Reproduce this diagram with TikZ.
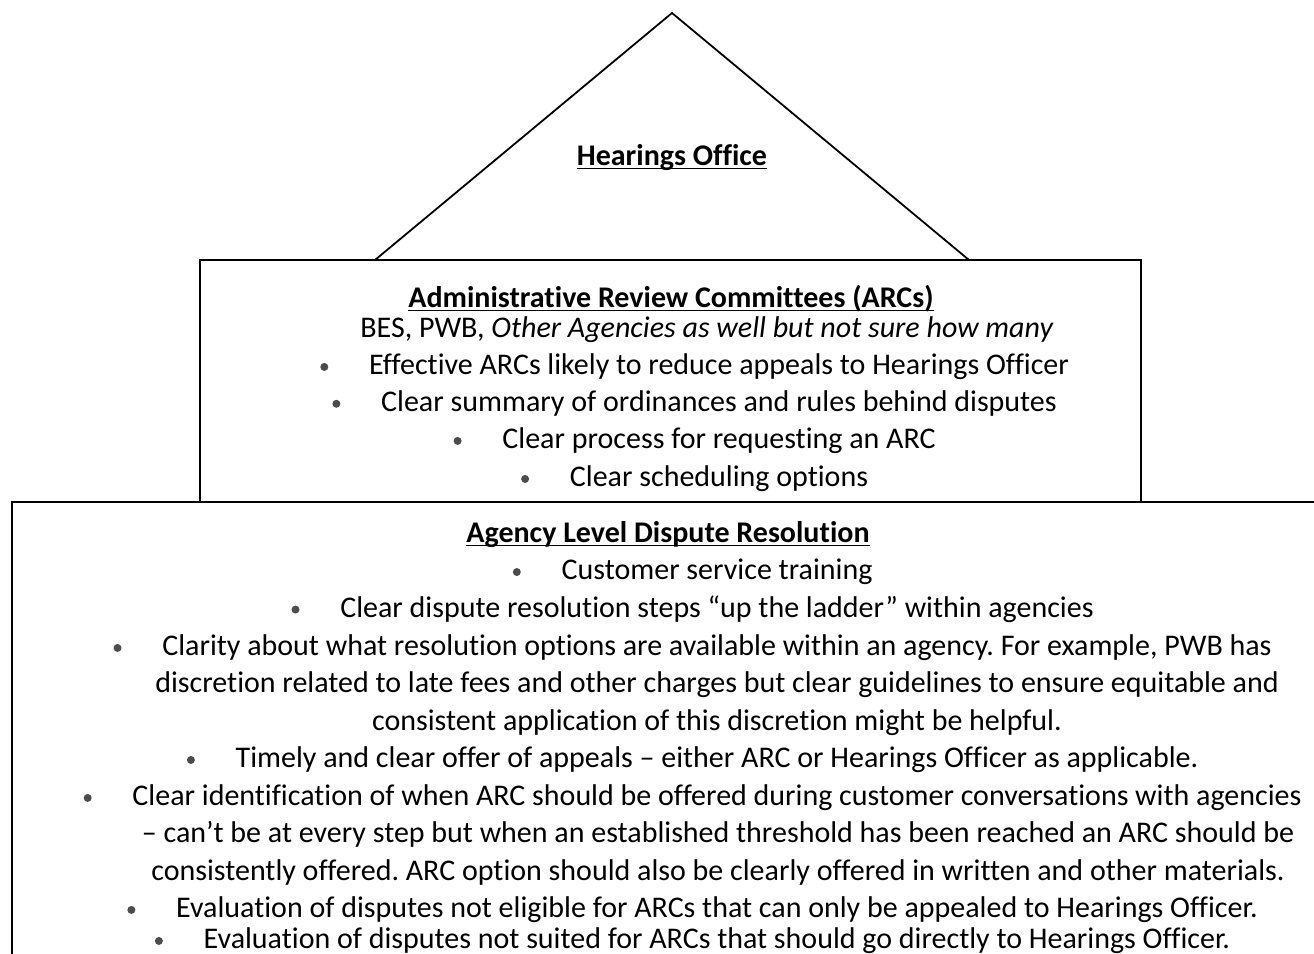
\documentclass[tikz,border=0pt]{standalone}
\usepackage{fontspec}
\setmainfont{Carlito}[Ligatures=NoCommon]
\usetikzlibrary{positioning}
\frenchspacing
\newcommand{\headline}[1]{\underline{\smash{\textbf{#1}}}}

\begin{document}
\begin{tikzpicture}[x=0.5pt, y=-0.5pt, font=\fontsize{15}{17}\selectfont,
  every node/.style={inner sep=0pt},
  frame/.style={line width=0.9pt},
  dot/.style={circle, fill=black!70, inner sep=0pt, minimum size=4pt},
  line/.style={anchor=mid}]
  \useasboundingbox (0,0) rectangle (1314,954);

  % roof: hearings office
  \coordinate (roofL) at (375,260);
  \coordinate (apex)  at (672,13);
  \coordinate (roofR) at (969,260);
  \draw[frame] (roofL) -- (apex) -- (roofR);
  \node[line] (ho) at (672,161) {\headline{Hearings Office}};

  % middle floor: ARCs
  \draw[frame] (200,260) rectangle (1141,502);
  \node[line] (arctitle) at (671,303) {\headline{Administrative Review Committees (ARCs)}};
  \node[line] (arcsub) at (707,333) {BES, PWB, \textit{Other Agencies as well but not sure how many}};
  \foreach \y/\t [count=\i] in {370/{Effective ARCs likely to reduce appeals to Hearings Officer},
      407/{Clear summary of ordinances and rules behind disputes},
      444/{Clear process for requesting an ARC},
      482/{Clear scheduling options}}{
    \node[line] (arc\i) at (719,\y) {\t};
    \node[dot, left=20pt of arc\i.west] (arcdot\i) {};
  }

  % ground floor: agency level
  \draw[frame] (12,954) |- (1314,502);
  \node[line] (agtitle) at (668,538) {\headline{Agency Level Dispute Resolution}};
  \foreach \y/\t [count=\i] in {575/{Customer service training},
      613/{Clear dispute resolution steps “up the ladder” within agencies},
      651/{Clarity about what resolution options are available within an agency. For example, PWB has},
      763/{Timely and clear offer of appeals – either ARC or Hearings Officer as applicable.},
      801/{Clear identification of when ARC should be offered during customer conversations with agencies},
      913/{Evaluation of disputes not eligible for ARCs that can only be appealed to Hearings Officer.},
      944/{Evaluation of disputes not suited for ARCs that should go directly to Hearings Officer.}}{
    \node[line] (ag\i) at (717,\y) {\t};
    \node[dot, left=20pt of ag\i.west] (agdot\i) {};
  }
  \node[line] (ag3b) at (717,688) {discretion related to late fees and other charges but clear guidelines to ensure equitable and};
  \node[line] (ag3c) at (717,726) {consistent application of this discretion might be helpful.};
  \node[line] (ag5b) at (718,838) {– can’t be at every step but when an established threshold has been reached an ARC should be};
  \node[line] (ag5c) at (718,876) {consistently offered. ARC option should also be clearly offered in written and other materials.};
\end{tikzpicture}
\end{document}
